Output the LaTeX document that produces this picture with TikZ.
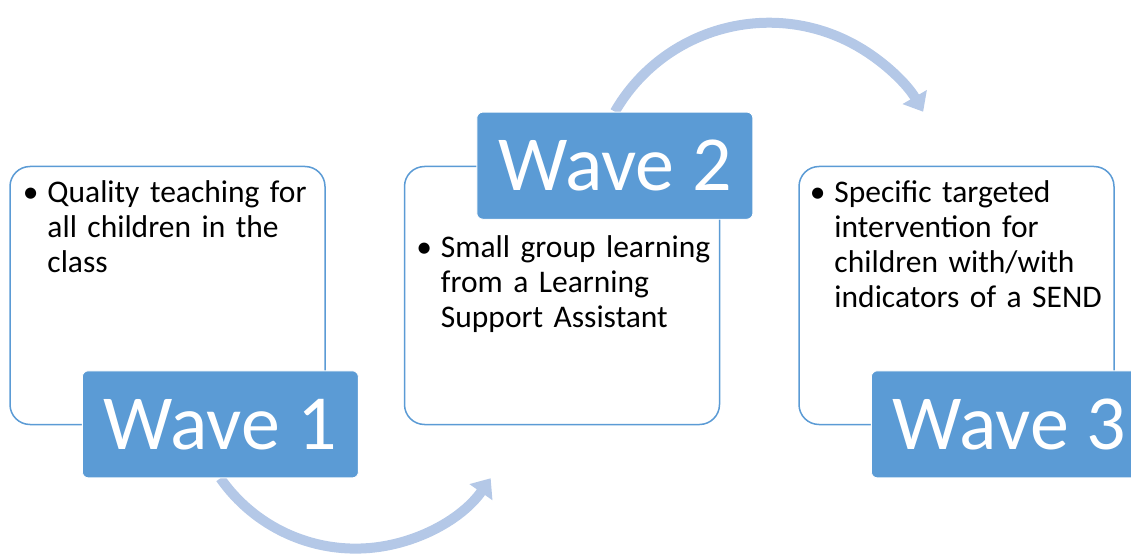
\documentclass[tikz,border=0pt]{standalone}
\usepackage{fontspec}
\setmainfont{Carlito}
\usetikzlibrary{
	arrows.meta,
	backgrounds,
	positioning,
}
\definecolor{waveblue}{RGB}{91,155,213}
\definecolor{arcblue}{RGB}{180,200,231}
\newcommand{\wavebullet}{\llap{\textbullet\hspace{9pt}}}
\tikzset{wavebox/.style={
		% The shape:
		rectangle,rounded corners=20pt,
		% The size:
		minimum width=315pt,minimum height=258pt,
		% The border:
		line width=1.5pt,draw=waveblue,
		% The filling:
		fill=white,
}}
\tikzset{wavelabel/.style={
		% The shape:
		rectangle,rounded corners=6pt,
		% The size:
		minimum width=276pt,minimum height=107pt,
		% The rest
		fill=waveblue,draw=white,line width=0.8pt,text=white,
		font=\fontsize{78}{78}\selectfont,
}}
\tikzset{wavetext/.style={
		% make sure text aligns properly
		anchor=base west,inner sep=0pt,
		text width=290pt,align=left,text=black,
		font=\fontsize{31.5}{35}\selectfont,
}}
\tikzset{flow/.style={
		line width=10pt,draw=arcblue,
		-{Triangle[length=17pt,width=27pt]},
}}
\begin{document}
\begin{tikzpicture}[x=1pt,y=1pt]
	\useasboundingbox (0,0) rectangle (1131,555);
	% the three boxes
	\node[wavebox] (b1) at (167.5,259.5) {};
	\node[wavebox,right=78pt of b1] (b2) {};
	\node[wavebox,right=78pt of b2] (b3) {};
	% the wave labels
	\node[wavelabel,anchor=south east] (w1) at ([shift={(33pt,-53pt)}]b1.south east) {Wave 1};
	\node[wavelabel,anchor=north east] (w2) at ([shift={(33pt,54pt)}]b2.north east) {Wave 2};
	\node[wavelabel,anchor=south east] (w3) at ([shift={(33pt,-53pt)}]b3.south east) {Wave 3};
	% the texts
	\node[wavetext] (t1) at ([shift={(38pt,-37pt)}]b1.north west) {\wavebullet Quality teaching for\\all children in the\\class};
	\node[wavetext] (t2) at ([shift={(37pt,-92pt)}]b2.north west) {\wavebullet Small group learning\\from a Learning\\Support Assistant};
	\node[wavetext] (t3) at ([shift={(36pt,-37pt)}]b3.north west) {\wavebullet Specific targeted\\intervention for\\children with/with\\indicators of a SEND};
	% the arrows
	\begin{scope}[on background layer]
		\draw[flow] (w1.south) arc[start angle=215,end angle=325,radius=165];
		\draw[flow] (w2.north) arc[start angle=150,end angle=30,radius=178];
	\end{scope}
\end{tikzpicture}
\end{document}
